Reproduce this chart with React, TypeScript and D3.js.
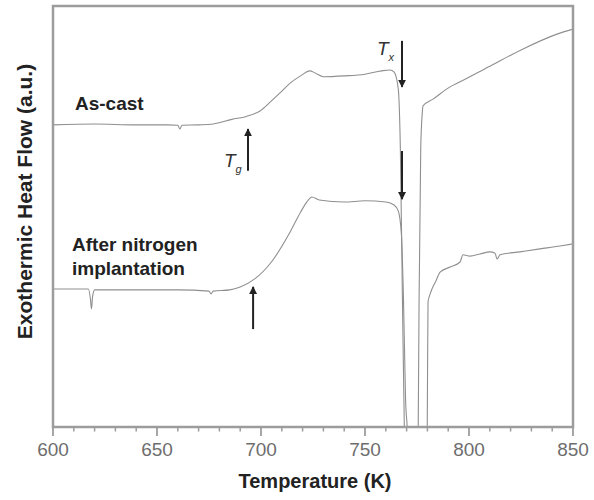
import React from "react";
import * as d3 from "d3";

// Temperature (K) and exothermic heat flow (a.u.)
const asCastT = [600, 620, 640, 655, 660, 661, 662, 670, 677, 686, 693, 699.5, 704, 709, 714, 719, 723.5, 726, 730, 740, 750, 758, 762, 764, 766, 767, 768, 769, 770, 775.2, 775.6, 776, 776.8, 777.5, 777.9, 782.7, 790.9, 795.7, 810, 826, 842.3, 850];
const asCastQ = [71.6, 71.8, 71.6, 71.6, 71.5, 70.6, 71.5, 71.6, 71.8, 72.9, 73.6, 74.9, 76.8, 79.1, 81.5, 83.2, 84.4, 83.9, 83.0, 83.2, 83.6, 84.4, 84.6, 84.1, 80.1, 65.9, 30.3, -3, -20, -20, 0.7, 30, 66, 74.2, 76.1, 77.7, 80.6, 81.8, 85.5, 89.6, 93.1, 94.3];

const nitrogenT = [600, 610, 617, 618, 618.5, 619, 620, 640, 660, 675, 676, 677, 685, 690, 697, 705, 714, 719, 722, 724.5, 728, 740, 750, 760, 764, 766, 767.5, 768.5, 769.5, 770.5, 771, 779.6, 780, 780.3, 781.3, 782.2, 784.1, 786.1, 790.9, 795.7, 797.1, 800.5, 805.3, 810.1, 812.5, 813.5, 814.9, 824.5, 834.1, 843.8, 850];
const nitrogenQ = [32.7, 32.7, 32.7, 30.3, 28.0, 30.8, 32.5, 32.5, 32.5, 32.2, 31.5, 32.2, 32.5, 33.2, 35.1, 39.1, 46.2, 50.9, 53.3, 54.5, 53.8, 53.3, 53.6, 53.3, 52.6, 51.2, 45.7, 30.3, 6.6, -3, -20, -20, 6.6, 29.6, 31.5, 32.7, 34.6, 36.7, 37.9, 39.1, 40.8, 40.5, 41.0, 41.5, 41.2, 39.8, 40.8, 41.5, 42.2, 42.9, 43.4];

const xMajorTicks = [600, 650, 700, 750, 800, 850];
const xMinorTicks = [610, 620, 630, 640, 660, 670, 680, 690, 710, 720, 730, 740, 760, 770, 780, 790, 810, 820, 830, 840];

// Arrows: [T, from, to], arrowhead at "to"
const arrowT = [767.8, 767.8, 693.75, 696.2];
const arrowFrom = [91.5, 65.4, 60.7, 23.2];
const arrowTo = [80.6, 54.0, 70.6, 33.2];

const W = 594;
const H = 500;
const left = 53, right = 573, top = 6, bottom = 427;

export default function App() {
  const x = d3.scaleLinear().domain([600, 850]).range([left, right]);
  const y = d3.scaleLinear().domain([0, 100]).range([bottom, bottom - 422]);

  const line = d3
    .line<[number, number]>()
    .x((d) => x(d[0]))
    .y((d) => y(d[1]))
    .curve(d3.curveMonotoneX);

  const asCast = line(asCastT.map((t, i) => [t, asCastQ[i]]) as [number, number][]) || "";
  const nitrogen = line(nitrogenT.map((t, i) => [t, nitrogenQ[i]]) as [number, number][]) || "";

  const font = "'Liberation Sans', Arial, Helvetica, sans-serif";
  const curveColor = "#8f8f8f";
  const frameColor = "#9c9c9c";

  return (
    <svg
      width={W}
      height={H}
      viewBox={`0 0 ${W} ${H}`}
      style={{ position: "absolute", left: 0, top: 0, background: "#fff" }}
      fontFamily={font}
    >
      <defs>
        <clipPath id="plotClip">
          <rect x={left} y={top} width={right - left} height={bottom - top} />
        </clipPath>
        <marker id="head" viewBox="0 0 10 10" refX="9" refY="5" markerWidth="4" markerHeight="5" orient="auto">
          <path d="M0,0 L10,5 L0,10 z" fill="#222" />
        </marker>
      </defs>

      <g clipPath="url(#plotClip)" fill="none" stroke={curveColor} strokeWidth={1.1}>
        <path d={asCast} />
        <path d={nitrogen} />
      </g>

      {/* frame */}
      <rect x={left} y={top} width={right - left} height={bottom - top} fill="none" stroke={frameColor} strokeWidth={2.5} />

      {/* ticks */}
      {xMajorTicks.map((t) => (
        <g key={"M" + t}>
          <line x1={x(t)} x2={x(t)} y1={bottom} y2={bottom + 9} stroke={frameColor} strokeWidth={1.8} />
          <text x={x(t)} y={456} textAnchor="middle" fontSize={19} fill="#6e6e6e">
            {t}
          </text>
        </g>
      ))}
      {xMinorTicks.map((t) => (
        <line key={"m" + t} x1={x(t)} x2={x(t)} y1={bottom} y2={bottom + 4.5} stroke={frameColor} strokeWidth={1.5} />
      ))}

      {/* axis titles */}
      <text x={(left + right) / 2 + 2} y={488} textAnchor="middle" fontSize={20} fontWeight="bold" fill="#222">
        Temperature (K)
      </text>
      <text
        transform={`translate(32, ${(top + bottom) / 2 - 15}) rotate(-90)`}
        textAnchor="middle"
        fontSize={21}
        fontWeight="bold"
        fill="#222"
      >
        Exothermic Heat Flow (a.u.)
      </text>

      {/* curve labels */}
      <text x={75} y={110} fontSize={19} fontWeight="bold" fill="#222">
        As-cast
      </text>
      <text x={72} y={251} fontSize={19} fontWeight="bold" fill="#222">
        After nitrogen
      </text>
      <text x={72} y={275} fontSize={19} fontWeight="bold" fill="#222">
        implantation
      </text>

      {/* arrows */}
      {arrowT.map((t, i) => (
        <line
          key={"a" + i}
          x1={x(t)}
          x2={x(t)}
          y1={y(arrowFrom[i])}
          y2={y(arrowTo[i])}
          stroke="#222"
          strokeWidth={2}
          markerEnd="url(#head)"
        />
      ))}

      {/* Tx and Tg labels */}
      <text x={377} y={55} fontSize={19} fontStyle="italic" fill="#333">
        T
        <tspan fontSize={11} dy={6}>x</tspan>
      </text>
      <text x={224} y={167} fontSize={19} fontStyle="italic" fill="#333">
        T
        <tspan fontSize={11} dy={6}>g</tspan>
      </text>
    </svg>
  );
}
